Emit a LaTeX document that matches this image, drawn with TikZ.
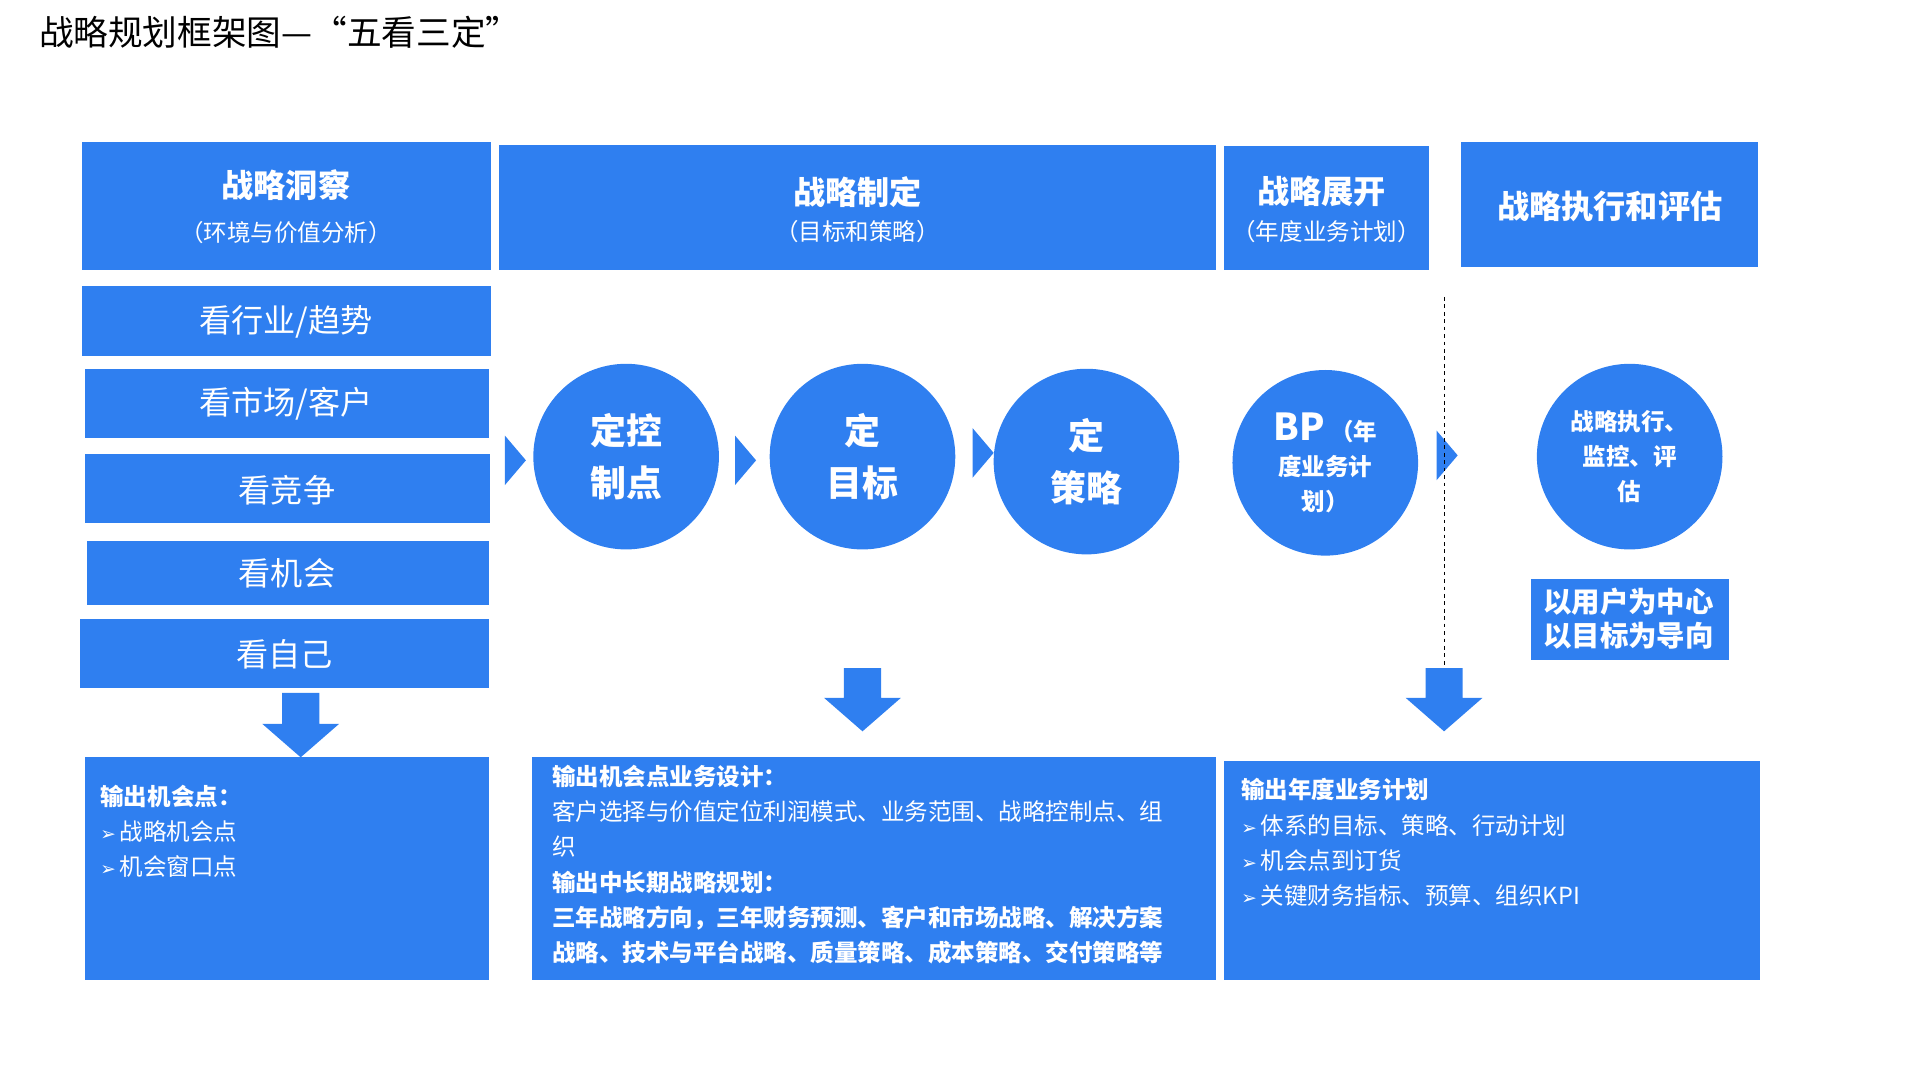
\documentclass[tikz,border=0pt]{standalone}
\usepackage{fontspec}
\setmainfont{Noto Sans CJK SC}
\newfontfamily\dejavu{DejaVu Sans}
\definecolor{bluebox}{HTML}{2F7FF0}
\newcommand{\pt}{{\dejavu\fontsize{15}{15}\selectfont ➢}\,}
\begin{document}
\begin{tikzpicture}[x=1pt,y=-1pt,
  box/.style={fill=bluebox,draw=none,inner sep=0},
  head/.style={text=white,font=\fontsize{26}{30}\selectfont\bfseries},
  sub/.style={text=white,font=\fontsize{19}{22}\selectfont},
  look/.style={text=white,font=\fontsize{26}{30}\selectfont},
  ring/.style={circle,fill=bluebox,minimum size=150pt,inner sep=0,text=white,align=center},
  body/.style={text=white,anchor=north west,align=left,inner sep=0,font=\fontsize{19}{28.5}\selectfont}]
  \useasboundingbox (0,0) rectangle (1550,871);
  \node[anchor=west,font=\fontsize{28}{32}\selectfont] (title) at (28,26){战略规划框架图—“五看三定”};
  % headers
  \fill[bluebox] (66,115) rectangle (397,218);
  \fill[bluebox] (403,117) rectangle (983,218);
  \fill[bluebox] (989,118) rectangle (1155,218);
  \fill[bluebox] (1181,115) rectangle (1421,216);
  \node[head] (h1) at (231,150){战略洞察};
  \node[sub] (s1) at (231,188){（环境与价值分析）};
  \node[head] (h2) at (693,155){战略制定};
  \node[sub] (s2) at (693,187){（目标和策略）};
  \node[head] (h3) at (1068,155){战略展开};
  \node[sub] (s3) at (1072,187){（年度业务计划）};
  \node[head] (h4) at (1301,167){战略执行和评估};
  % five looks
  \fill[bluebox] (66,231) rectangle (397,288);
  \fill[bluebox] (69,298) rectangle (395,354);
  \fill[bluebox] (69,367) rectangle (396,423);
  \fill[bluebox] (70,437) rectangle (395,489);
  \fill[bluebox] (65,500) rectangle (395,556);
  \node[look] (l1) at (231,260){看行业/趋势};
  \node[look] (l2) at (231,326){看市场/客户};
  \node[look] (l3) at (232,396){看竞争};
  \node[look] (l4) at (232,463){看机会};
  \node[look] (l5) at (230,529){看自己};
  % circles
  \node[ring,font=\fontsize{29}{42}\selectfont\bfseries] (c1) at (506,369){定控\\制点};
  \node[ring,font=\fontsize{29}{42}\selectfont\bfseries] (c2) at (697,369){定\\目标};
  \node[ring,font=\fontsize{29}{42}\selectfont\bfseries] (c3) at (878,373){定\\策略};
  \node[ring,font=\fontsize{19}{28}\selectfont\bfseries] (c4) at (1071,374){{\fontsize{30}{32}\selectfont BP} （年\\度业务计\\划）};
  \node[ring,font=\fontsize{19}{28}\selectfont\bfseries] (c5) at (1317,369){战略执行、\\监控、评\\估};
  % small arrows
  \foreach \x/\y in {408/372,594/372,786/366,1161/368}
    \fill[bluebox] (\x,\y-20) -- (\x+17,\y) -- (\x,\y+20) -- cycle;
  \draw[dashed,thin] (1167,240) -- (1167,540);
  % down arrows
  \foreach \x/\t/\b in {243/560/612,697/540/591,1167/540/591}
    \fill[bluebox] (\x-15,\t) -- (\x+15,\t) -- (\x+15,\b-27) -- (\x+31,\b-27)
      -- (\x,\b) -- (\x-31,\b-27) -- (\x-15,\b-27) -- cycle;
  \fill[bluebox] (1237,468) rectangle (1397,533);
  \node[text=white,align=left,font=\fontsize{23}{28}\selectfont\bfseries] (centre) at (1316,500){以用户为中心\\以目标为导向};
  % outputs
  \fill[bluebox] (69,612) rectangle (395,792);
  \fill[bluebox] (430,612) rectangle (983,792);
  \fill[bluebox] (989,615) rectangle (1422,792);
  \node[body] (o1) at (81,634){\textbf{输出机会点：}\\\pt 战略机会点\\\pt 机会窗口点};
  \node[body] (o2) at (446,618){\textbf{输出机会点业务设计：}\\客户选择与价值定位利润模式、业务范围、战略控制点、组\\织\\\textbf{输出中长期战略规划：}\\\textbf{三年战略方向，三年财务预测、客户和市场战略、解决方案}\\\textbf{战略、技术与平台战略、质量策略、成本策略、交付策略等}};
  \node[body] (o3) at (1003,629){\textbf{输出年度业务计划}\\\pt 体系的目标、策略、行动计划\\\pt 机会点到订货\\\pt 关键财务指标、预算、组织KPI};
\end{tikzpicture}
\end{document}
